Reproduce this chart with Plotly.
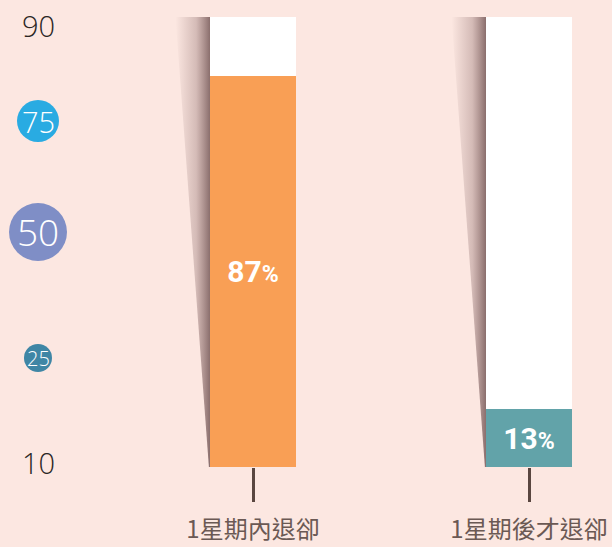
import plotly.graph_objects as go

# ---- data ----
categories = ["1星期內退卻", "1星期後才退卻"]
values = [87, 13]
bar_colors = ["#f99f55", "#62a3a9"]
total = 100
remainder = [total - v for v in values]

# decorative left scale labels
scale_labels = ["90", "75", "50", "25", "10"]
scale_fills = [None, "#29abe2", "#7f8ec6", "#3f86a5", None]

# ---- styling ----
BG = "#fce7e1"
W, H = 612, 547
ML, MR, MT, MB = 0, 0, 17, 80
plot_h = H - MT - MB
px_per_unit = 276.0
center0_px = 253.0
x0 = -center0_px / px_per_unit
x1 = x0 + W / px_per_unit
bar_w = 86.0 / px_per_unit

# pixel y centers, font sizes, circle radii of the decorative scale
scale_py = [25, 121, 232, 358, 462]
scale_fs = [29, 29, 37, 20, 29]
scale_r = [0, 21, 29, 14, 0]

xpos = list(range(len(categories)))

fig = go.Figure()

# perspective shadows on the left of each bar
for i in xpos:
    left = i - bar_w / 2
    fig.add_trace(go.Scatter(
        x=[left - 0.125, left, left, left - 0.004, left - 0.125],
        y=[total, total, 0, 0, total],
        mode="lines", line=dict(width=0, color="rgba(0,0,0,0)"),
        fill="toself",
        fillgradient=dict(type="horizontal",
                          colorscale=[[0, "rgba(120,85,85,0)"],
                                      [0.6, "rgba(120,85,85,0.3)"],
                                      [1, "rgba(100,70,70,0.75)"]]),
        hoverinfo="skip", showlegend=False,
    ))

fig.add_trace(go.Bar(
    x=xpos, y=values, width=bar_w,
    marker=dict(color=bar_colors, line=dict(width=0)),
    text=[f"{v}<span style='font-size:23px'>%</span>" for v in values],
    texttemplate="%{text}",
    textposition="inside", insidetextanchor="middle", textangle=0,
    textfont=dict(color="white", size=30, family="Roboto", weight="bold"),
    showlegend=False, hoverinfo="skip",
))
fig.add_trace(go.Bar(
    x=xpos, y=remainder, width=bar_w,
    marker=dict(color="white", line=dict(width=0)),
    showlegend=False, hoverinfo="skip",
))

# decorative left scale
for lab, fill, py, fs, r in zip(scale_labels, scale_fills, scale_py, scale_fs, scale_r):
    yp = (H - MB - py) / plot_h
    xp = 38.0 / W
    if fill:
        fig.add_shape(type="circle", xref="paper", yref="paper",
                      xsizemode="pixel", ysizemode="pixel",
                      xanchor=xp, yanchor=yp, x0=-r, x1=r, y0=-r, y1=r,
                      fillcolor=fill, line=dict(width=0), layer="above")
    fig.add_annotation(x=xp, y=yp, xref="paper", yref="paper",
                       text=lab, showarrow=False,
                       xanchor="center", yanchor="middle",
                       font=dict(size=fs, color="white" if fill else "#2b2624",
                                 family="Open Sans, sans-serif", weight=300))

fig.update_layout(
    width=W, height=H,
    margin=dict(l=ML, r=MR, t=MT, b=MB),
    paper_bgcolor=BG, plot_bgcolor=BG,
    barmode="stack", bargap=0,
    xaxis=dict(range=[x0, x1], tickvals=xpos, ticktext=categories,
               ticks="outside", ticklen=34, tickwidth=3, tickcolor="#5a4640",
               showgrid=False, zeroline=False, showline=False,
               automargin=False, ticklabeloverflow="allow",
               ticklabelstandoff=7,
               tickfont=dict(size=24, color="#6b5954",
                             family="Noto Sans CJK TC, sans-serif")),
    yaxis=dict(range=[0, total], visible=False, showgrid=False,
               zeroline=False, automargin=False),
)

fig.write_html("out.html", config={"displayModeBar": False},
               post_script="document.body.style.margin='0';document.body.style.background='%s';" % BG)
